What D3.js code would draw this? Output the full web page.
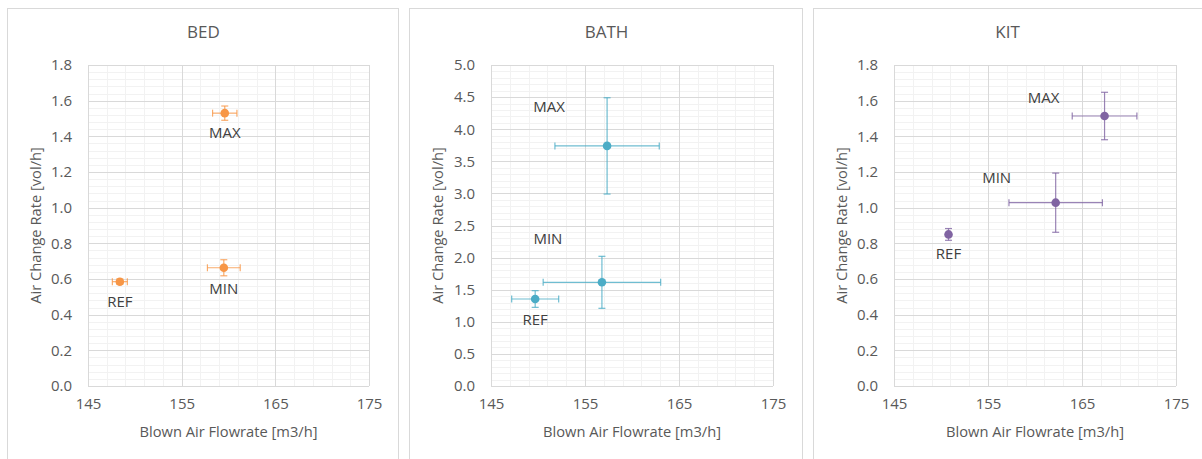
<!DOCTYPE html>
<html>
<head>
<meta charset="utf-8">
<script src="https://cdn.jsdelivr.net/npm/d3@7"></script>
<style>
  html, body { margin: 0; padding: 0; background: #fff; }
  svg { display: block; font-family: "Open Sans", "Segoe UI", sans-serif; }
</style>
</head>
<body>
<svg id="chart" width="1202" height="459"></svg>
<script>
// ---------- data ----------
const categories = ["REF", "MIN", "MAX"];
const panelTitles = ["BED", "BATH", "KIT"];

const bedFlow     = [148.4, 159.5, 159.6];
const bedFlowErr  = [0.8, 1.75, 1.3];
const bedAch      = [0.585, 0.663, 1.53];
const bedAchErr   = [0.015, 0.045, 0.04];

const bathFlow    = [149.7, 156.8, 157.35];
const bathFlowErr = [2.5, 6.25, 5.55];
const bathAch     = [1.355, 1.615, 3.74];
const bathAchErr  = [0.13, 0.405, 0.75];

const kitFlow     = [150.8, 162.2, 167.4];
const kitFlowErr  = [0.2, 4.97, 3.44];
const kitAch      = [0.85, 1.028, 1.514];
const kitAchErr   = [0.033, 0.166, 0.133];

const xTicks = [145, 155, 165, 175];
const bedYTicks  = [0, 0.2, 0.4, 0.6, 0.8, 1.0, 1.2, 1.4, 1.6, 1.8];
const bathYTicks = [0, 0.5, 1.0, 1.5, 2.0, 2.5, 3.0, 3.5, 4.0, 4.5, 5.0];
const kitYTicks  = bedYTicks;

const xAxisTitle = "Blown Air Flowrate [m3/h]";
const yAxisTitle = "Air Change Rate [vol/h]";

// ---------- layout / style ----------
const panels = [
  { title: panelTitles[0], flow: bedFlow, flowErr: bedFlowErr, ach: bedAch, achErr: bedAchErr,
    yTicks: bedYTicks, yMax: 1.8, yMinor: 0.04, color: "#F79646",
    box: [7, 8, 398], plot: [88, 369],
    labelOff: [[0, 21], [0, 22], [0, 21]] },
  { title: panelTitles[1], flow: bathFlow, flowErr: bathFlowErr, ach: bathAch, achErr: bathAchErr,
    yTicks: bathYTicks, yMax: 5.0, yMinor: 0.1, color: "#4BACC6",
    box: [409, 8, 802], plot: [491, 773],
    labelOff: [[0, 22], [-54, -42], [-58, -38]] },
  { title: panelTitles[2], flow: kitFlow, flowErr: kitFlowErr, ach: kitAch, achErr: kitAchErr,
    yTicks: kitYTicks, yMax: 1.8, yMinor: 0.04, color: "#8064A2",
    box: [813, 8, 1210], plot: [894, 1176],
    labelOff: [[0, 21], [-59, -24], [-61, -17]] }
];
const plotTop = 65, plotBottom = 386;
const textColor = "#595959";

const svg = d3.select("#chart");

panels.forEach(p => {
  const g = svg.append("g");
  // panel border
  g.append("rect")
    .attr("x", p.box[0] + 0.5).attr("y", p.box[1] + 0.5)
    .attr("width", p.box[2] - p.box[0]).attr("height", 470)
    .attr("fill", "#fff").attr("stroke", "#d9d9d9").attr("stroke-width", 1);

  const x = d3.scaleLinear().domain([145, 175]).range(p.plot);
  const y = d3.scaleLinear().domain([0, p.yMax]).range([plotBottom, plotTop]);

  // minor gridlines
  const xMinor = d3.range(145, 175.001, 2);
  const yMinor = d3.range(0, p.yMax + 1e-9, p.yMinor);
  g.append("g").selectAll("line").data(xMinor).join("line")
    .attr("x1", d => Math.round(x(d)) + 0.5).attr("x2", d => Math.round(x(d)) + 0.5)
    .attr("y1", plotTop).attr("y2", plotBottom)
    .attr("stroke", "#f2f2f2");
  g.append("g").selectAll("line").data(yMinor).join("line")
    .attr("y1", d => Math.round(y(d)) + 0.5).attr("y2", d => Math.round(y(d)) + 0.5)
    .attr("x1", p.plot[0]).attr("x2", p.plot[1])
    .attr("stroke", "#f2f2f2");

  // major gridlines
  g.append("g").selectAll("line").data(xTicks).join("line")
    .attr("x1", d => Math.round(x(d)) + 0.5).attr("x2", d => Math.round(x(d)) + 0.5)
    .attr("y1", plotTop).attr("y2", plotBottom)
    .attr("stroke", "#d9d9d9");
  g.append("g").selectAll("line").data(p.yTicks).join("line")
    .attr("y1", d => Math.round(y(d)) + 0.5).attr("y2", d => Math.round(y(d)) + 0.5)
    .attr("x1", p.plot[0]).attr("x2", p.plot[1])
    .attr("stroke", "#d9d9d9");

  // axes (labels only)
  const xAxis = d3.axisBottom(x).tickValues(xTicks).tickSize(0).tickPadding(12).tickFormat(d3.format("d"));
  const ax = g.append("g").attr("transform", `translate(0,${plotBottom})`).call(xAxis);
  ax.select(".domain").remove();
  ax.selectAll("text").attr("fill", textColor).attr("font-size", 15).attr("font-family", "Open Sans");

  const yAxis = d3.axisLeft(y).tickValues(p.yTicks).tickSize(0).tickPadding(16).tickFormat(d3.format(".1f"));
  const ay = g.append("g").attr("transform", `translate(${p.plot[0]},0)`).call(yAxis);
  ay.select(".domain").remove();
  ay.selectAll("text").attr("fill", textColor).attr("font-size", 15).attr("font-family", "Open Sans");

  // titles
  const cx = (p.plot[0] + p.plot[1]) / 2;
  g.append("text").attr("x", (p.box[0] + Math.min(p.box[2], 1200)) / 2 + 1).attr("y", 33)
    .attr("text-anchor", "middle").attr("dominant-baseline", "middle")
    .attr("fill", textColor).attr("font-size", 17).text(p.title);
  g.append("text").attr("x", cx).attr("y", 433)
    .attr("text-anchor", "middle").attr("dominant-baseline", "middle")
    .attr("fill", textColor).attr("font-size", 14.7).text(xAxisTitle);
  g.append("text")
    .attr("transform", `translate(${p.box[0] + 30},${(plotTop + plotBottom) / 2}) rotate(-90)`)
    .attr("text-anchor", "middle").attr("dominant-baseline", "middle")
    .attr("fill", textColor).attr("font-size", 14.7).text(yAxisTitle);

  const pts = categories.map((c, i) => ({
    cat: c, fx: p.flow[i], fe: p.flowErr[i], ay: p.ach[i], ae: p.achErr[i], off: p.labelOff[i]
  }));

  const eb = g.append("g").attr("stroke", p.color).attr("stroke-opacity", 0.8).attr("stroke-width", 1.2);
  const cap = 3.5;
  pts.forEach(d => {
    eb.append("line").attr("x1", x(d.fx - d.fe)).attr("x2", x(d.fx + d.fe)).attr("y1", y(d.ay)).attr("y2", y(d.ay));
    eb.append("line").attr("x1", x(d.fx - d.fe)).attr("x2", x(d.fx - d.fe)).attr("y1", y(d.ay) - cap).attr("y2", y(d.ay) + cap);
    eb.append("line").attr("x1", x(d.fx + d.fe)).attr("x2", x(d.fx + d.fe)).attr("y1", y(d.ay) - cap).attr("y2", y(d.ay) + cap);
    eb.append("line").attr("x1", x(d.fx)).attr("x2", x(d.fx)).attr("y1", y(d.ay - d.ae)).attr("y2", y(d.ay + d.ae));
    eb.append("line").attr("x1", x(d.fx) - cap).attr("x2", x(d.fx) + cap).attr("y1", y(d.ay - d.ae)).attr("y2", y(d.ay - d.ae));
    eb.append("line").attr("x1", x(d.fx) - cap).attr("x2", x(d.fx) + cap).attr("y1", y(d.ay + d.ae)).attr("y2", y(d.ay + d.ae));
  });

  g.append("g").selectAll("circle").data(pts).join("circle")
    .attr("cx", d => x(d.fx)).attr("cy", d => y(d.ay)).attr("r", 4.3)
    .attr("fill", p.color);

  g.append("g").selectAll("text").data(pts).join("text")
    .attr("x", d => x(d.fx) + d.off[0]).attr("y", d => y(d.ay) + d.off[1])
    .attr("text-anchor", "middle").attr("dominant-baseline", "middle")
    .attr("fill", "#404040").attr("font-size", 15).text(d => d.cat);
});
</script>
</body>
</html>
